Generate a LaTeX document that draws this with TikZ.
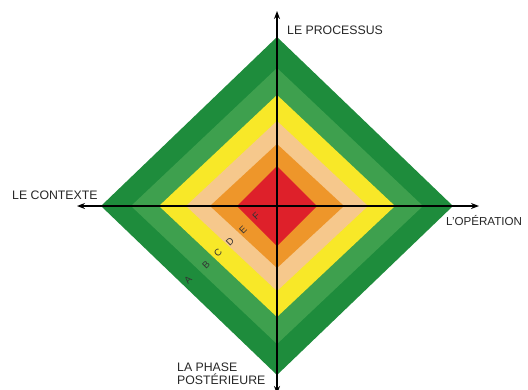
\documentclass[tikz,border=0pt]{standalone}
\usepackage{fontspec}
\setmainfont{Liberation Sans}
\usetikzlibrary{arrows.meta}
\definecolor{vertfonce}{RGB}{30,140,60}
\definecolor{vertmoyen}{RGB}{62,160,78}
\definecolor{jaune}{RGB}{248,232,40}
\definecolor{saumon}{RGB}{246,200,140}
\definecolor{orangevif}{RGB}{238,150,42}
\definecolor{rouge}{RGB}{222,32,42}
\tikzset{
  axe/.style    = {line width=1.6pt, {Stealth[length=8pt,width=6pt]}-{Stealth[length=8pt,width=6pt]}},
  etiq/.style   = {font=\fontsize{12.3}{13.5}\selectfont, inner sep=0, text=black!85},
  lettre/.style = {font=\fontsize{9.5}{10}\selectfont, inner sep=0, rotate=45, text=black!80}
}
\begin{document}
\begin{tikzpicture}[x=1pt,y=-1pt]
  \useasboundingbox (0,0) rectangle (528,389);
  \coordinate (O) at (277,206);
  % losanges, du plus grand au plus petit
  \foreach \w/\h/\c in {176/169/vertfonce, 146/138/vertmoyen, 118/111/jaune, 91/85/saumon, 67/62/orangevif, 40/40/rouge}
    \fill[\c] (O) ++(-\w,0) -- ++(\w,-\h) -- ++(\w,\h) -- ++(-\w,\h) -- cycle;
  % axes
  \coordinate (haut) at (277,11); \coordinate (bas) at (277,394);
  \coordinate (gauche) at (77,206); \coordinate (droite) at (479,206);
  \draw[axe] (bas) -- (haut);
  \draw[axe] (gauche) -- (droite);
  \node[etiq,anchor=west] (proc) at (287,30) {LE PROCESSUS};
  \node[etiq,anchor=west] (ctx) at (12,195) {LE CONTEXTE};
  \node[etiq,anchor=west,font=\fontsize{11.6}{13}\selectfont] (oper) at (446,221) {L'OPÉRATION};
  \node[etiq,anchor=west,align=left] (phase) at (177,374) {LA PHASE\\POSTÉRIEURE};
  % lettres des niveaux
  \foreach \l/\x/\y in {A/188/280, B/206/265, C/218/253, D/230/242, E/243/230, F/256/216}
    \node[lettre] (l\l) at (\x,\y) {\l};
\end{tikzpicture}
\end{document}
